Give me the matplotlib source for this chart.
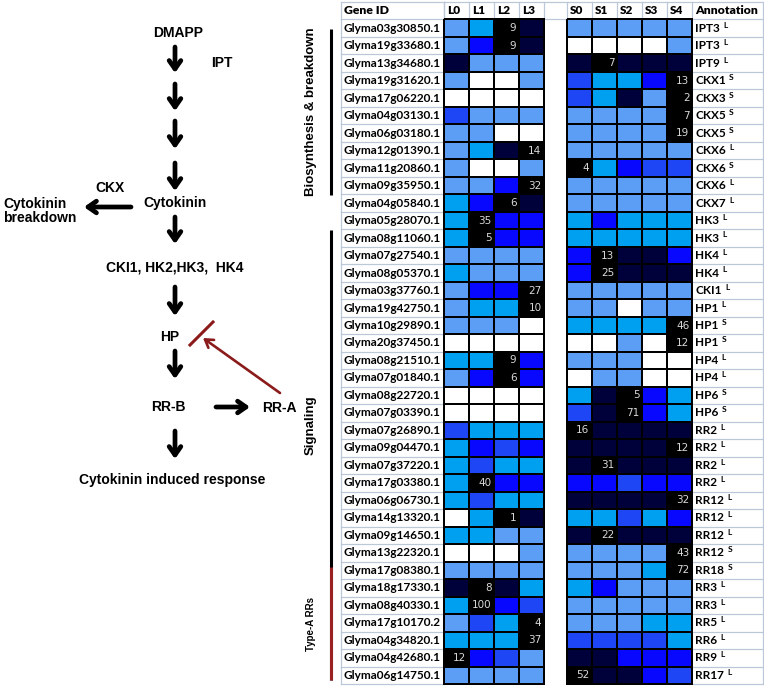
import numpy as np
import matplotlib
matplotlib.use("Agg")
import matplotlib.pyplot as plt
from matplotlib.colors import ListedColormap

# ---------------- data ----------------
gene_ids = [
    "Glyma03g30850.1", "Glyma19g33680.1", "Glyma13g34680.1", "Glyma19g31620.1",
    "Glyma17g06220.1", "Glyma04g03130.1", "Glyma06g03180.1", "Glyma12g01390.1",
    "Glyma11g20860.1", "Glyma09g35950.1", "Glyma04g05840.1", "Glyma05g28070.1",
    "Glyma08g11060.1", "Glyma07g27540.1", "Glyma08g05370.1", "Glyma03g37760.1",
    "Glyma19g42750.1", "Glyma10g29890.1", "Glyma20g37450.1", "Glyma08g21510.1",
    "Glyma07g01840.1", "Glyma08g22720.1", "Glyma07g03390.1", "Glyma07g26890.1",
    "Glyma09g04470.1", "Glyma07g37220.1", "Glyma17g03380.1", "Glyma06g06730.1",
    "Glyma14g13320.1", "Glyma09g14650.1", "Glyma13g22320.1", "Glyma17g08380.1",
    "Glyma18g17330.1", "Glyma08g40330.1", "Glyma17g10170.2", "Glyma04g34820.1",
    "Glyma04g42680.1", "Glyma06g14750.1",
]
annotations = [
    "IPT3", "IPT3", "IPT9", "CKX1", "CKX3", "CKX5", "CKX5", "CKX6", "CKX6", "CKX6",
    "CKX7", "HK3", "HK3", "HK4", "HK4", "CKI1", "HP1", "HP1", "HP1", "HP4", "HP4",
    "HP6", "HP6", "RR2", "RR2", "RR2", "RR2", "RR12", "RR12", "RR12", "RR12", "RR18",
    "RR3", "RR3", "RR5", "RR6", "RR9", "RR17",
]
annotation_sup = [
    "L", "L", "L", "S", "S", "S", "S", "L", "S", "L", "L", "L", "L", "L", "L", "L",
    "L", "S", "S", "L", "L", "S", "S", "L", "L", "L", "L", "L", "L", "L", "S", "S",
    "L", "L", "L", "L", "L", "L",
]
leaf_cols = ["L0", "L1", "L2", "L3"]
seed_cols = ["S0", "S1", "S2", "S3", "S4"]
# expression level classes: 0 white, 1 light blue, 2 cyan, 3 mid blue, 4 blue, 5 navy, 6 black (peak)
leaf_levels = [
    [1, 2, 6, 5], [1, 4, 6, 5], [5, 1, 1, 1], [1, 0, 0, 1], [0, 0, 0, 0],
    [3, 1, 1, 1], [1, 1, 0, 0], [1, 2, 5, 6], [1, 0, 0, 1], [1, 1, 4, 6],
    [2, 4, 6, 5], [2, 6, 4, 4], [2, 6, 4, 4], [1, 1, 1, 1], [2, 1, 1, 1],
    [1, 4, 4, 6], [1, 2, 2, 6], [1, 1, 1, 0], [0, 0, 0, 0], [2, 2, 6, 4],
    [1, 4, 6, 4], [0, 0, 0, 0], [0, 0, 0, 0], [3, 2, 2, 2], [2, 4, 3, 4],
    [2, 3, 2, 2], [2, 6, 4, 4], [2, 3, 2, 2], [0, 2, 6, 5], [2, 2, 1, 1],
    [0, 0, 0, 1], [1, 1, 1, 1], [5, 6, 5, 2], [2, 6, 4, 3], [1, 3, 2, 6],
    [2, 2, 2, 6], [6, 4, 3, 1], [1, 1, 1, 1],
]
seed_levels = [
    [1, 1, 1, 1, 1], [0, 0, 0, 0, 1], [5, 6, 5, 5, 5], [3, 2, 2, 4, 6], [3, 2, 5, 1, 6],
    [1, 1, 1, 1, 6], [1, 1, 1, 1, 6], [1, 1, 1, 1, 1], [6, 2, 4, 3, 3], [1, 1, 1, 1, 1],
    [1, 1, 1, 1, 1], [2, 4, 2, 2, 2], [2, 2, 2, 2, 2], [4, 6, 5, 5, 4], [4, 6, 5, 5, 5],
    [1, 1, 1, 1, 1], [1, 1, 0, 1, 1], [2, 2, 2, 2, 6], [0, 0, 1, 0, 6], [1, 1, 1, 0, 0],
    [0, 1, 1, 0, 0], [2, 5, 6, 4, 2], [3, 5, 6, 4, 2], [6, 5, 5, 5, 5], [5, 5, 5, 5, 6],
    [5, 6, 5, 5, 5], [4, 4, 3, 4, 4], [5, 5, 5, 5, 6], [2, 2, 3, 2, 4], [5, 6, 5, 5, 5],
    [1, 1, 1, 1, 6], [1, 1, 1, 2, 6], [2, 4, 1, 1, 1], [1, 1, 1, 1, 1], [1, 1, 1, 2, 2],
    [3, 3, 3, 3, 2], [5, 5, 4, 4, 4], [6, 5, 5, 4, 3],
]
peak_values = [9, 9, 7, 13, 2, 7, 19, 14, 4, 32, 6, 35, 5, 13, 25, 27, 10, 46, 12, 9,
               6, 5, 71, 16, 12, 31, 40, 32, 1, 22, 43, 72, 8, 100, 4, 37, 12, 52]
groups = [("Biosynthesis & breakdown", 0, 10), ("Signaling", 11, 37)]
typeA_group = ("Type-A RRs", 32, 37)

level_colors = ["#ffffff", "#5c9df5", "#00a0f0", "#1e46f5", "#0808ff", "#00003a", "#000000"]

# ---------------- layout ----------------
W, H = 764, 690
fig = plt.figure(figsize=(W / 100, H / 100), dpi=100)
BOLD = "Liberation Sans"
TAB = "Lato"
GRID = "#bcc8da"

def px_axes(x0, y0, x1, y1, **kw):
    return fig.add_axes([x0 / W, 1 - y1 / H, (x1 - x0) / W, (y1 - y0) / H], **kw)

ax = px_axes(0, 0, W, H)
ax.set_xlim(0, W)
ax.set_ylim(H, 0)
ax.axis("off")

n = len(gene_ids)
top, bottom = 2.0, 684.0
rh = (bottom - top) / (n + 1)
def row_y(i):          # top of data row i (header is row -1)
    return top + (i + 1) * rh

x_gene0, x_gene1 = 341, 444
x_L0, x_L1 = 444, 544
x_S0, x_S1 = 567, 692
x_A1 = 763

# table gridlines (gene id + annotation columns, header)
for i in range(-1, n + 1):
    y = row_y(i)
    ax.plot([x_gene0, x_gene1], [y, y], color=GRID, lw=0.9, zorder=1)
    ax.plot([x_S1, x_A1], [y, y], color=GRID, lw=0.9, zorder=1)
for y in (row_y(-1), row_y(0)):
    ax.plot([x_gene1, x_S1], [y, y], color=GRID, lw=0.9, zorder=1)
for x in (x_gene0, x_A1):
    ax.plot([x, x], [row_y(-1), row_y(n)], color=GRID, lw=0.9, zorder=1)
hdr_x = list(np.linspace(x_L0, x_L1, len(leaf_cols) + 1)) + list(np.linspace(x_S0, x_S1, len(seed_cols) + 1))
for x in hdr_x + [x_gene1]:
    ax.plot([x, x], [row_y(-1), row_y(0)], color=GRID, lw=0.9, zorder=1)

# header text
hy = (row_y(-1) + row_y(0)) / 2
ax.text(x_gene0 + 3, hy, "Gene ID", fontfamily=TAB, fontweight="heavy",
        fontsize=8.8, va="center", ha="left")
for k, c in enumerate(leaf_cols):
    ax.text(hdr_x[k] + 3, hy, c, fontfamily=TAB, fontweight="heavy", fontsize=8.5, va="center")
for k, c in enumerate(seed_cols):
    ax.text(hdr_x[len(leaf_cols) + 1 + k] + 3, hy, c, fontfamily=TAB,
            fontweight="heavy", fontsize=8.5, va="center")
ax.text(x_S1 + 3, hy, "Annotation", fontfamily=TAB, fontweight="heavy",
        fontsize=8.8, va="center")

# gene ids + annotations
for i, (g, a, s) in enumerate(zip(gene_ids, annotations, annotation_sup)):
    yc = (row_y(i) + row_y(i + 1)) / 2
    ax.text(x_gene0 + 3, yc, g, fontfamily=TAB, fontweight="bold", fontsize=8.5, va="center")
    t = ax.text(x_S1 + 3, yc, a, fontfamily=TAB, fontweight="bold", fontsize=8.5, va="center")
    ax.annotate(s, xy=(1, 1.1), xycoords=t, xytext=(2.5, 0), textcoords="offset points",
                fontfamily=TAB, fontweight="bold", fontsize=6, va="top", ha="left")

# heatmaps
cmap = ListedColormap(level_colors)
for levels, cols, (x0, x1) in ((leaf_levels, leaf_cols, (x_L0, x_L1)),
                               (seed_levels, seed_cols, (x_S0, x_S1))):
    hx = px_axes(x0, row_y(0), x1, row_y(n))
    arr = np.array(levels)
    m = hx.pcolormesh(arr, cmap=cmap, vmin=-0.5, vmax=6.5, edgecolors="black", linewidth=1.1)
    m.set_clip_on(False)
    hx.set_xlim(0, len(cols))
    hx.set_ylim(n, 0)
    hx.axis("off")
    for i in range(n):
        for j in range(len(cols)):
            if arr[i, j] == 6:
                hx.text(j + 0.9, i + 0.5, str(peak_values[i]), ha="right", va="center",
                        color="#d8d8d8", fontsize=7.5, fontfamily="DejaVu Sans")

# group brackets
xb = 331
for name, r0, r1 in groups:
    y0 = row_y(r0) + 10 if r0 == 0 else row_y(r0) + 18
    y1 = row_y(r1 + 1) - 17 if r1 < n - 1 else row_y(r1 + 1) - 4
    ax.plot([xb, xb], [y0, y1], color="black", lw=2.2, solid_capstyle="butt")
    yc = (y0 + y1) / 2 if r0 == 0 else 425
    ax.text(311, yc, name, rotation=90, ha="center", va="center", fontfamily=BOLD,
            fontweight="bold", fontsize=9.5)
name, r0, r1 = typeA_group
y0, y1 = row_y(r0) - 12, row_y(r1 + 1) - 4
ax.plot([xb, xb], [y0, y1], color="#9b2020", lw=2.2, solid_capstyle="butt", zorder=3)
ax.text(311, (y0 + y1) / 2, name, rotation=90, ha="center", va="center", fontfamily=BOLD,
        fontweight="bold", fontsize=7)

# pathway diagram
def label(x, y, s, **kw):
    ax.text(x, y, s, ha=kw.pop("ha", "center"), va="center", fontfamily=BOLD,
            fontweight="bold", fontsize=kw.pop("fontsize", 10), **kw)

def arrow(x0, y0, x1, y1, color="black", lw=3.4):
    ax.annotate("", xy=(x1, y1), xytext=(x0, y0),
                arrowprops=dict(arrowstyle="->,head_length=0.6,head_width=0.42",
                                color=color, lw=lw, shrinkA=0, shrinkB=0))

label(178, 33, "DMAPP")
label(222, 63, "IPT")
for y0, y1 in [(47, 73), (84, 111), (121, 149), (163, 191), (217, 244), (287, 316),
               (351, 379), (431, 459)]:
    arrow(175, y0, 175, y1)
label(110, 188, "CKX")
label(175, 203, "Cytokinin")
label(3, 211, "Cytokinin\nbreakdown", ha="left", linespacing=1.05)
arrow(131, 207, 84, 207)
label(175, 267, "CKI1, HK2,HK3,  HK4")
label(170, 337, "HP")
label(168, 407, "RR-B")
arrow(216, 407, 250, 407)
label(279, 408, "RR-A")
label(172, 480, "Cytokinin induced response")
red = "#8b1a1a"
ax.annotate("", xy=(203, 338), xytext=(280, 393),
            arrowprops=dict(arrowstyle="->,head_length=0.55,head_width=0.35", color=red, lw=1.9,
                            shrinkA=0, shrinkB=0))
ax.plot([190, 213], [345, 322], color=red, lw=2.2)

fig.savefig("out.png", dpi=100)
